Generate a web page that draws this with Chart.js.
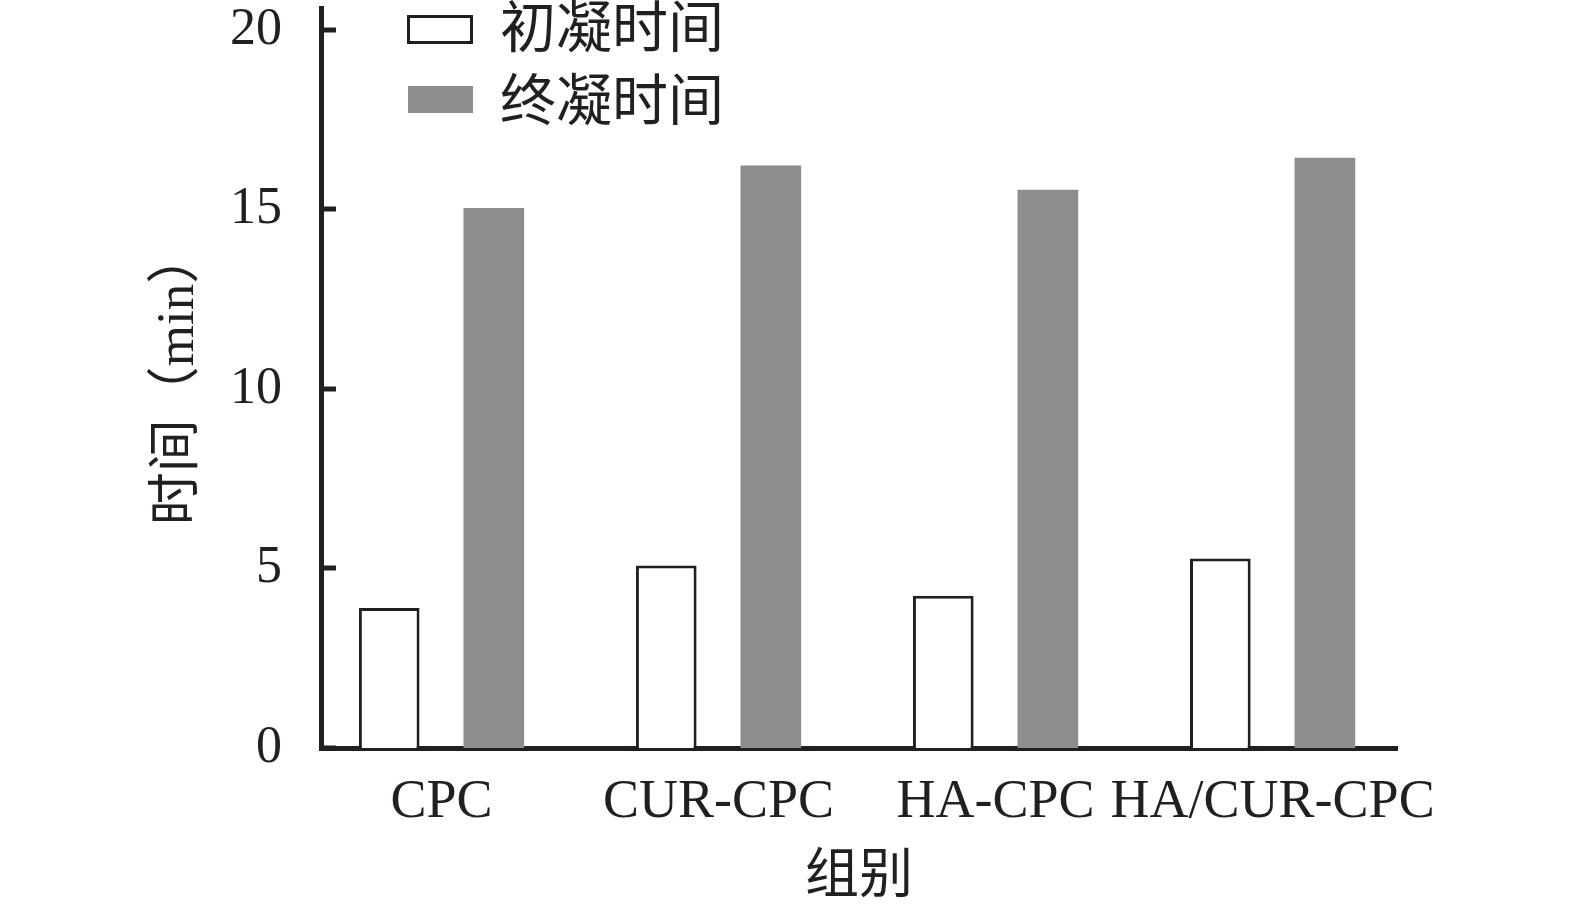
<!DOCTYPE html>
<html lang="zh-CN">
<head>
<meta charset="utf-8">
<title>初凝与终凝时间</title>
<script src="https://cdn.jsdelivr.net/npm/chart.js@4.4.1/dist/chart.umd.min.js"></script>
<style>
  html, body { margin: 0; padding: 0; background: #fff; }
  #wrap { width: 1575px; height: 911px; }
</style>
</head>
<body>
<div id="wrap"><canvas id="setChart" width="1575" height="911"></canvas></div>
<script>
// data (min)
const groups = ['CPC', 'CUR-CPC', 'HA-CPC', 'HA/CUR-CPC'];
const initialSet = [3.9, 5.08, 4.24, 5.28];   // 初凝时间
const finalSet = [15.04, 16.22, 15.55, 16.44]; // 终凝时间
const yTicks = [0, 5, 10, 15, 20];
const seriesNames = ['初凝时间', '终凝时间'];

const INK = '#231f20';
const GRAY = '#8e8d8e';
const FONT = '"Liberation Serif", "Noto Sans CJK SC", serif';

// y ticks point into the plot
const innerTicks = {
    id: 'innerTicks',
    afterDraw(chart) {
        const { ctx, chartArea, scales } = chart;
        ctx.save();
        ctx.strokeStyle = INK;
        ctx.lineWidth = 5;
        yTicks.forEach(v => {
            const y = Math.round(scales.y.getPixelForValue(v));
            ctx.beginPath();
            ctx.moveTo(chartArea.left, y);
            ctx.lineTo(chartArea.left + 15, y);
            ctx.stroke();
        });
        ctx.restore();
    }
};

// legend stacked in the upper left, as in the figure
const boxLegend = {
    id: 'boxLegend',
    afterDraw(chart) {
        const { ctx } = chart;
        const rows = [
            { x: 407, y: 15, w: 66, h: 29, textY: 32 },
            { x: 408, y: 86, w: 65, h: 27, textY: 105 }
        ];
        ctx.save();
        chart.data.datasets.forEach((ds, i) => {
            const r = rows[i];
            ctx.fillStyle = ds.backgroundColor;
            ctx.fillRect(r.x, r.y, r.w, r.h);
            if (ds.borderWidth) {
                ctx.strokeStyle = ds.borderColor;
                ctx.lineWidth = 3;
                ctx.strokeRect(r.x + 1.5, r.y + 1.5, r.w - 3, r.h - 3);
            }
            ctx.fillStyle = INK;
            ctx.font = '56px ' + FONT;
            ctx.textBaseline = 'middle';
            ctx.textAlign = 'left';
            ctx.fillText(ds.label, 500, r.textY);
        });
        ctx.restore();
    }
};

new Chart(document.getElementById('setChart'), {
    type: 'bar',
    data: {
        datasets: [
            {
                label: seriesNames[0],
                data: groups.map((g, i) => ({ x: i, y: initialSet[i] })),
                backgroundColor: '#ffffff',
                borderColor: INK,
                borderWidth: 3
            },
            {
                label: seriesNames[1],
                data: groups.map((g, i) => ({ x: i, y: finalSet[i] })),
                backgroundColor: GRAY,
                borderWidth: 0
            }
        ]
    },
    options: {
        responsive: false,
        devicePixelRatio: 1,
        animation: false,
        categoryPercentage: 0.755,
        barPercentage: 0.58,
        layout: { padding: { left: 0, right: 178, top: 8, bottom: 0 } },
        plugins: {
            legend: { display: false },
            tooltip: { enabled: false }
        },
        scales: {
            x: {
                type: 'linear',
                offset: false,
                min: -0.435,
                max: 3.449,
                z: 1,
                afterBuildTicks: s => { s.ticks = groups.map((g, i) => ({ value: i })); },
                afterFit: s => { s.height = 163; s.paddingLeft = 0; s.paddingRight = 0; },
                grid: { display: false },
                border: { display: true, color: INK, width: 5 },
                ticks: {
                    callback: v => groups[v],
                    autoSkip: false,
                    maxRotation: 0,
                    padding: 14,
                    color: INK,
                    font: { family: FONT, size: 54 }
                },
                title: {
                    display: true,
                    text: '组别',
                    color: INK,
                    font: { family: FONT, size: 54 },
                    padding: { top: 0, bottom: 0 }
                }
            },
            y: {
                min: 0,
                max: 20.61,
                z: 1,
                afterBuildTicks: s => { s.ticks = yTicks.map(v => ({ value: v })); },
                afterFit: s => { s.width = 321; s.paddingTop = 0; s.paddingBottom = 0; },
                grid: { display: false },
                border: { display: true, color: INK, width: 5 },
                ticks: {
                    padding: 31,
                    color: INK,
                    font: { family: FONT, size: 52 }
                },
                title: {
                    display: true,
                    text: '时间（min）',
                    color: INK,
                    font: { family: FONT, size: 53 },
                    padding: { top: 147, bottom: 0 }
                }
            }
        }
    },
    plugins: [innerTicks, boxLegend]
});
</script>
</body>
</html>
